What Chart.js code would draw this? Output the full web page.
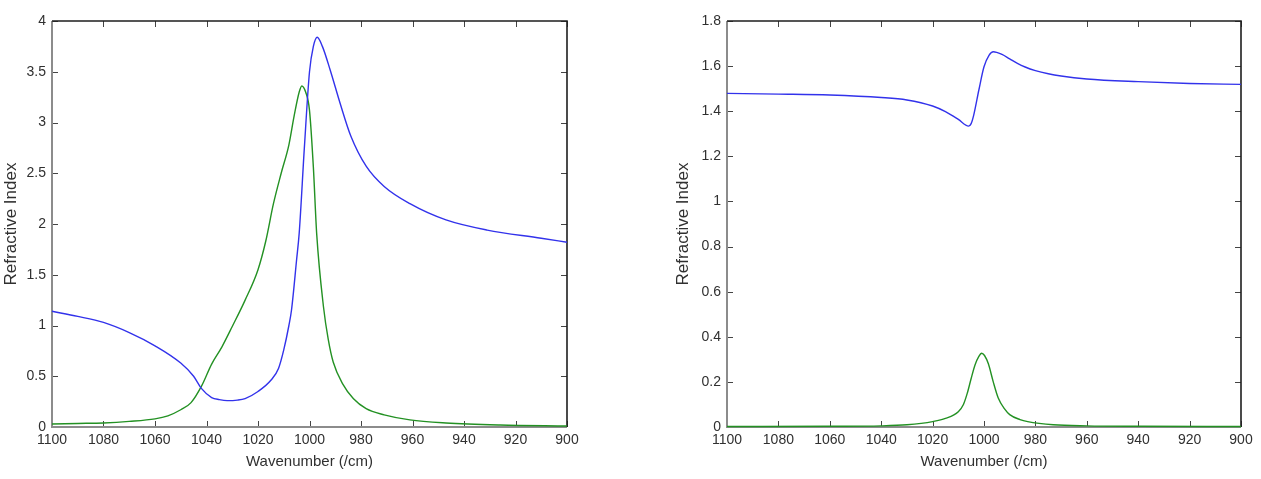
<!DOCTYPE html>
<html>
<head>
<meta charset="utf-8">
<script src="https://cdn.jsdelivr.net/npm/chart.js@4/dist/chart.umd.min.js"></script>
<style>
  html, body { margin: 0; padding: 0; background: #fff; }
  body { width: 1261px; height: 479px; position: relative; overflow: hidden; }
  .box { position: absolute; top: 0; height: 479px; }
</style>
</head>
<body>
<div class="box" style="left:0;width:620px"><canvas id="c1"></canvas></div>
<div class="box" style="left:660px;width:601px"><canvas id="c2"></canvas></div>
<script>
// ---- data (wavenumber in /cm, refractive index values) ----
const xTicks = [1100, 1080, 1060, 1040, 1020, 1000, 980, 960, 940, 920, 900];
const yTicksLeft = [0, 0.5, 1, 1.5, 2, 2.5, 3, 3.5, 4];
const yTicksRight = [0, 0.2, 0.4, 0.6, 0.8, 1, 1.2, 1.4, 1.6, 1.8];

const leftBlueX = [1100, 1090, 1080, 1070, 1060, 1050, 1045, 1042, 1038, 1035, 1032, 1028, 1025, 1020, 1015, 1012, 1010, 1008, 1007, 1005, 1004, 1002, 1000, 998.5, 997, 995, 992, 988, 984, 978, 971, 961, 947, 931, 910, 900];
const leftBlueY = [1.14, 1.09, 1.03, 0.93, 0.80, 0.63, 0.50, 0.38, 0.29, 0.27, 0.26, 0.265, 0.28, 0.35, 0.46, 0.58, 0.76, 1.0, 1.15, 1.65, 1.91, 2.75, 3.5, 3.75, 3.84, 3.75, 3.52, 3.18, 2.87, 2.57, 2.37, 2.20, 2.04, 1.94, 1.86, 1.82];

const leftGreenX = [1100, 1090, 1080, 1070, 1060, 1055, 1050, 1046, 1042, 1038, 1034, 1030, 1025, 1020, 1017, 1014, 1011, 1008, 1006, 1004, 1003, 1001.5, 1000, 998.5, 997.2, 994.6, 992.7, 990.8, 987, 983, 978, 971, 961, 947, 926, 900];
const leftGreenY = [0.03, 0.035, 0.04, 0.055, 0.08, 0.11, 0.17, 0.24, 0.40, 0.62, 0.79, 0.99, 1.25, 1.55, 1.83, 2.20, 2.50, 2.78, 3.06, 3.30, 3.36, 3.30, 3.12, 2.56, 1.90, 1.19, 0.86, 0.64, 0.42, 0.28, 0.18, 0.12, 0.07, 0.04, 0.02, 0.01];

const rightBlueX = [1100, 1080, 1060, 1040, 1030, 1020, 1015, 1010, 1006, 1005, 1004, 1002, 1000, 998, 996.4, 993, 990, 987, 984, 980, 975, 970, 960, 940, 920, 900];
const rightBlueY = [1.479, 1.476, 1.472, 1.461, 1.450, 1.423, 1.398, 1.364, 1.334, 1.345, 1.383, 1.494, 1.597, 1.649, 1.664, 1.652, 1.632, 1.612, 1.596, 1.580, 1.566, 1.556, 1.543, 1.531, 1.523, 1.519];

const rightGreenX = [1100, 1060, 1040, 1030, 1020, 1015, 1010, 1008, 1006.5, 1005, 1003.5, 1002, 1000.9, 999.8, 998.3, 996.4, 994.5, 992, 990, 986, 983, 973, 960, 940, 900];
const rightGreenY = [0.002, 0.003, 0.005, 0.01, 0.024, 0.038, 0.068, 0.10, 0.15, 0.215, 0.275, 0.313, 0.327, 0.317, 0.28, 0.20, 0.13, 0.08, 0.055, 0.033, 0.024, 0.01, 0.005, 0.003, 0.002];

const xTitle = 'Wavenumber (/cm)';
const yTitle = 'Refractive Index';

// ---- helpers ----
const FONT = "'Liberation Sans', Arial, Helvetica, sans-serif";
const TXT = '#303030';
function pts(xs, ys) { return xs.map((x, i) => ({ x: x, y: ys[i] })); }
function fmt(v) { return String(+(+v).toFixed(2)); }

const framePlugin = {
  id: 'frame',
  beforeDatasetsDraw(chart) {
    const { ctx, chartArea: a, scales } = chart;
    const L = 6;
    ctx.save();
    ctx.strokeStyle = '#444';
    ctx.lineWidth = 1;
    ctx.beginPath();
    scales.x.ticks.forEach(t => {
      const px = Math.round(scales.x.getPixelForValue(t.value)) + 0.5;
      ctx.moveTo(px, a.bottom); ctx.lineTo(px, a.bottom - L);
      ctx.moveTo(px, a.top); ctx.lineTo(px, a.top + L);
    });
    scales.y.ticks.forEach(t => {
      const py = Math.round(scales.y.getPixelForValue(t.value)) + 0.5;
      ctx.moveTo(a.left, py); ctx.lineTo(a.left + L, py);
      ctx.moveTo(a.right, py); ctx.lineTo(a.right - L, py);
    });
    ctx.stroke();
    ctx.lineWidth = 2;
    ctx.strokeStyle = '#8c8c8c';
    ctx.beginPath();
    ctx.moveTo(a.left, a.top); ctx.lineTo(a.left, a.bottom); ctx.lineTo(a.right, a.bottom);
    ctx.stroke();
    ctx.strokeStyle = '#1e1e1e';
    ctx.lineWidth = 1.6;
    ctx.beginPath();
    ctx.moveTo(a.left, a.top); ctx.lineTo(a.right, a.top); ctx.lineTo(a.right, a.bottom);
    ctx.stroke();
    ctx.restore();
  }
};

function makeChart(id, blue, green, yTicks, yMax, yWidth, rightPad, yTitlePad) {
  return new Chart(document.getElementById(id), {
    type: 'line',
    data: {
      datasets: [
        { data: blue, borderColor: 'rgb(50,50,235)', borderWidth: 1.4, pointRadius: 0, cubicInterpolationMode: 'monotone', clip: false, fill: false },
        { data: green, borderColor: 'rgb(35,145,35)', borderWidth: 1.4, pointRadius: 0, cubicInterpolationMode: 'monotone', clip: false, fill: false }
      ]
    },
    options: {
      responsive: true,
      maintainAspectRatio: false,
      animation: false,
      events: [],
      layout: { padding: { top: 21, right: rightPad, left: 0, bottom: 0 } },
      plugins: { legend: { display: false }, tooltip: { enabled: false } },
      scales: {
        x: {
          type: 'linear', reverse: true, min: 900, max: 1100,
          afterBuildTicks: s => { s.ticks = xTicks.map(v => ({ value: v })); },
          afterFit: s => { s.height = 52; },
          grid: { display: false, drawTicks: false },
          border: { display: false },
          ticks: { color: TXT, font: { family: FONT, size: 14 }, padding: 5, maxRotation: 0, autoSkip: false, callback: v => fmt(v) },
          title: { display: true, text: xTitle, color: TXT, font: { family: FONT, size: 15 }, padding: { top: 0, bottom: 8 } }
        },
        y: {
          type: 'linear', min: 0, max: yMax,
          afterBuildTicks: s => { s.ticks = yTicks.map(v => ({ value: v })); },
          afterFit: s => { s.width = yWidth; },
          grid: { display: false, drawTicks: false },
          border: { display: false },
          ticks: { color: TXT, font: { family: FONT, size: 14 }, padding: 6, autoSkip: false, callback: v => fmt(v) },
          title: { display: true, text: yTitle, color: TXT, font: { family: FONT, size: 17 }, padding: { top: yTitlePad, bottom: 0 } }
        }
      }
    },
    plugins: [framePlugin]
  });
}

makeChart('c1', pts(leftBlueX, leftBlueY), pts(leftGreenX, leftGreenY), yTicksLeft, 4, 52, 53, 1);
makeChart('c2', pts(rightBlueX, rightBlueY), pts(rightGreenX, rightGreenY), yTicksRight, 1.8, 67, 20, 13);
</script>
</body>
</html>
